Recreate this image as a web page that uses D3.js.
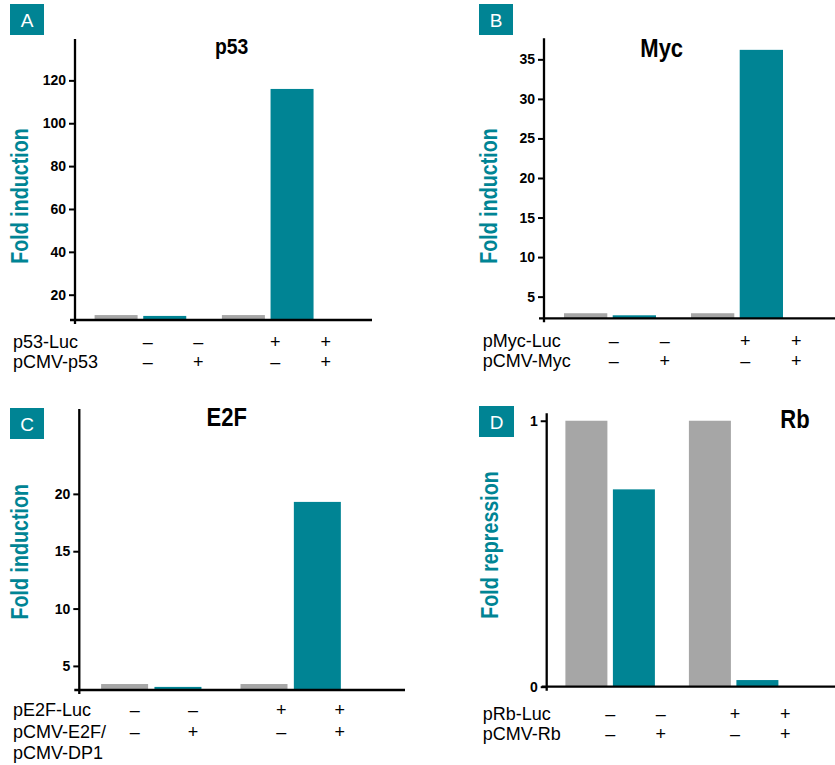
<!DOCTYPE html>
<html>
<head>
<meta charset="utf-8">
<script src="https://cdn.jsdelivr.net/npm/d3@7"></script>
<style>
  body { margin: 0; background: #fff; }
  svg { display: block; }
</style>
</head>
<body>
<div id="chart"></div>
<script>
// reporter assay, four panels (A-D)

var lucSigns = ["–", "–", "+", "+"];   // reporter plasmid row
var cmvSigns = ["–", "+", "–", "+"];   // expression plasmid row

var p53Values = [10.5, 10.1, 10.5, 116];
var mycValues = [2.9, 2.64, 2.9, 36.2];
var e2fValues = [3.42, 3.17, 3.42, 19.3];
var rbValues  = [1.0, 0.742, 1.0, 0.025];

var p53Ticks = [20, 40, 60, 80, 100, 120];
var mycTicks = [5, 10, 15, 20, 25, 30, 35];
var e2fTicks = [5, 10, 15, 20];
var rbTicks  = [0, 1];

var p53Rows = ["p53-Luc", "pCMV-p53"];
var mycRows = ["pMyc-Luc", "pCMV-Myc"];
var e2fRows = ["pE2F-Luc", "pCMV-E2F/", "pCMV-DP1"];
var rbRows  = ["pRb-Luc", "pCMV-Rb"];

var teal = "#008494";
var gray = "#a6a6a6";
var font = "'Liberation Sans', Arial, sans-serif";

var width = 835, height = 765;

var svg = d3.select("#chart").append("svg")
  .attr("width", width)
  .attr("height", height);

// layout of each panel (pixels)
var panels = [
  {letter: "A", title: "p53", yLabel: "Fold induction", values: p53Values, ticks: p53Ticks, rows: p53Rows,
   axisX: 75, top: 39, base: 320, yMin: 8.2, yMax: 139.3, right: 372,
   box: [10, 4, 34, 31], titleX: 231.7, titleY: 54, titleSize: 22, yLabelX: 28, yLabelY: 196,
   bar: {x0: 19.6, G: 127.3, s: 48.65, w: 43}, sign: {x0: 72.75, G: 127.5, s: 50.5},
   rowX: 13, rowY: [348, 368]},
  {letter: "B", title: "Myc", yLabel: "Fold induction", values: mycValues, ticks: mycTicks, rows: mycRows,
   axisX: 544, top: 38.3, base: 318.3, yMin: 2.26, yMax: 37.66, right: 835,
   box: [479, 4, 34, 31], titleX: 661.7, titleY: 57.3, titleSize: 25, yLabelX: 497, yLabelY: 196,
   bar: {x0: 20, G: 127, s: 48.7, w: 43.3}, sign: {x0: 69.65, G: 131.7, s: 51},
   rowX: 482.7, rowY: [347, 367]},
  {letter: "C", title: "E2F", yLabel: "Fold induction", values: e2fValues, ticks: e2fTicks, rows: e2fRows,
   axisX: 79.3, top: 409, base: 690, yMin: 2.9, yMax: 27.4, right: 405,
   box: [10, 408, 34, 31], titleX: 226.7, titleY: 425.5, titleSize: 25, yLabelX: 28, yLabelY: 551.7,
   bar: {x0: 21.8, G: 139.4, s: 53.35, w: 47}, sign: {x0: 55.4, G: 146.6, s: 58.35},
   rowX: 13, rowY: [716, 737.5, 759]},
  {letter: "D", title: "Rb", yLabel: "Fold repression", values: rbValues, ticks: rbTicks, rows: rbRows,
   axisX: 546.7, top: 413.3, base: 686.7, yMin: 0, yMax: 1.028, right: 835,
   box: [479, 406, 35, 31], titleX: 795, titleY: 428.3, titleSize: 25, yLabelX: 498, yLabelY: 545,
   bar: {x0: 18.7, G: 123.5, s: 47.5, w: 42}, sign: {x0: 63.65, G: 124.7, s: 50.3},
   rowX: 482.7, rowY: [719.5, 740]}
];

panels.forEach(function(p) {
  var g = svg.append("g");

  var y = d3.scaleLinear()
    .domain([p.yMin, p.yMax])
    .range([p.base, p.top]);

  // bars: outer band = reporter (- / +), inner band = expression plasmid
  var xOuter = d3.scaleBand()
    .domain(["–", "+"])
    .range([p.axisX + p.bar.x0, p.axisX + p.bar.x0 + p.bar.G + p.bar.s + p.bar.w])
    .paddingInner(1 - (p.bar.s + p.bar.w) / p.bar.G)
    .paddingOuter(0);
  var xInner = d3.scaleBand()
    .domain(["–", "+"])
    .range([0, p.bar.s + p.bar.w])
    .paddingInner(1 - p.bar.w / p.bar.s)
    .paddingOuter(0);

  // sign columns under the chart
  var sOuter = d3.scaleBand()
    .domain(["–", "+"])
    .range([p.axisX + p.sign.x0, p.axisX + p.sign.x0 + p.sign.G + p.sign.s])
    .paddingInner(1 - p.sign.s / p.sign.G)
    .paddingOuter(0);
  var sInner = d3.scalePoint()
    .domain(["–", "+"])
    .range([0, p.sign.s]);

  // bars
  g.selectAll("rect.bar")
    .data(p.values)
    .enter()
    .append("rect")
      .attr("class", "bar")
      .attr("x", function(d, i) { return xOuter(lucSigns[i]) + xInner(cmvSigns[i]); })
      .attr("width", xInner.bandwidth())
      .attr("y", function(d) { return y(d); })
      .attr("height", function(d) { return p.base - y(d); })
      .attr("fill", function(d, i) { return cmvSigns[i] == "+" ? teal : gray; });

  // y axis ticks
  var yAxis = g.append("g")
    .attr("transform", "translate(" + p.axisX + ",0)")
    .call(d3.axisLeft(y).tickValues(p.ticks).tickFormat(d3.format("d")).tickSize(6).tickPadding(3).tickSizeOuter(0));
  yAxis.select(".domain").remove();
  yAxis.selectAll(".tick line").attr("stroke", "#000").attr("stroke-width", 2);
  yAxis.selectAll(".tick text")
    .attr("fill", "#000")
    .style("font-family", font)
    .style("font-weight", "bold")
    .style("font-size", "14px");

  // axis lines
  g.append("line")
    .attr("x1", p.axisX).attr("x2", p.axisX)
    .attr("y1", p.top).attr("y2", p.base + 4)
    .attr("stroke", "#000").attr("stroke-width", 2.3);
  g.append("line")
    .attr("x1", p.axisX - 5).attr("x2", p.right)
    .attr("y1", p.base).attr("y2", p.base)
    .attr("stroke", "#000").attr("stroke-width", 2.3);

  // title (condensed bold)
  g.append("text")
    .attr("transform", "translate(" + p.titleX + "," + p.titleY + ") scale(0.88,1)")
    .attr("text-anchor", "middle")
    .style("font-family", font)
    .style("font-weight", "bold")
    .style("font-size", p.titleSize + "px")
    .text(p.title);

  // y label (condensed bold)
  g.append("text")
    .attr("transform", "translate(" + p.yLabelX + "," + p.yLabelY + ") rotate(-90) scale(0.82,1)")
    .attr("text-anchor", "middle")
    .attr("fill", teal)
    .style("font-family", font)
    .style("font-weight", "bold")
    .style("font-size", "24px")
    .text(p.yLabel);

  // panel letter box
  g.append("rect")
    .attr("x", p.box[0]).attr("y", p.box[1])
    .attr("width", p.box[2]).attr("height", p.box[3])
    .attr("fill", teal);
  g.append("text")
    .attr("x", p.box[0] + p.box[2] / 2).attr("y", p.box[1] + p.box[3] / 2 + 7)
    .attr("text-anchor", "middle")
    .attr("fill", "#fff")
    .style("font-family", font)
    .style("font-size", "19px")
    .text(p.letter);

  // row labels
  g.selectAll("text.row")
    .data(p.rows)
    .enter()
    .append("text")
      .attr("class", "row")
      .attr("x", p.rowX)
      .attr("y", function(d, i) { return p.rowY[i]; })
      .style("font-family", font)
      .style("font-size", "18px")
      .text(function(d) { return d; });

  // signs
  [lucSigns, cmvSigns].forEach(function(signs, r) {
    g.selectAll("text.sign" + r)
      .data(signs)
      .enter()
      .append("text")
        .attr("class", "sign" + r)
        .attr("x", function(d, i) { return sOuter(lucSigns[i]) + sInner(cmvSigns[i]); })
        .attr("y", p.rowY[r])
        .attr("text-anchor", "middle")
        .style("font-family", font)
        .style("font-size", "18px")
        .text(function(d) { return d; });
  });
});
</script>
</body>
</html>
